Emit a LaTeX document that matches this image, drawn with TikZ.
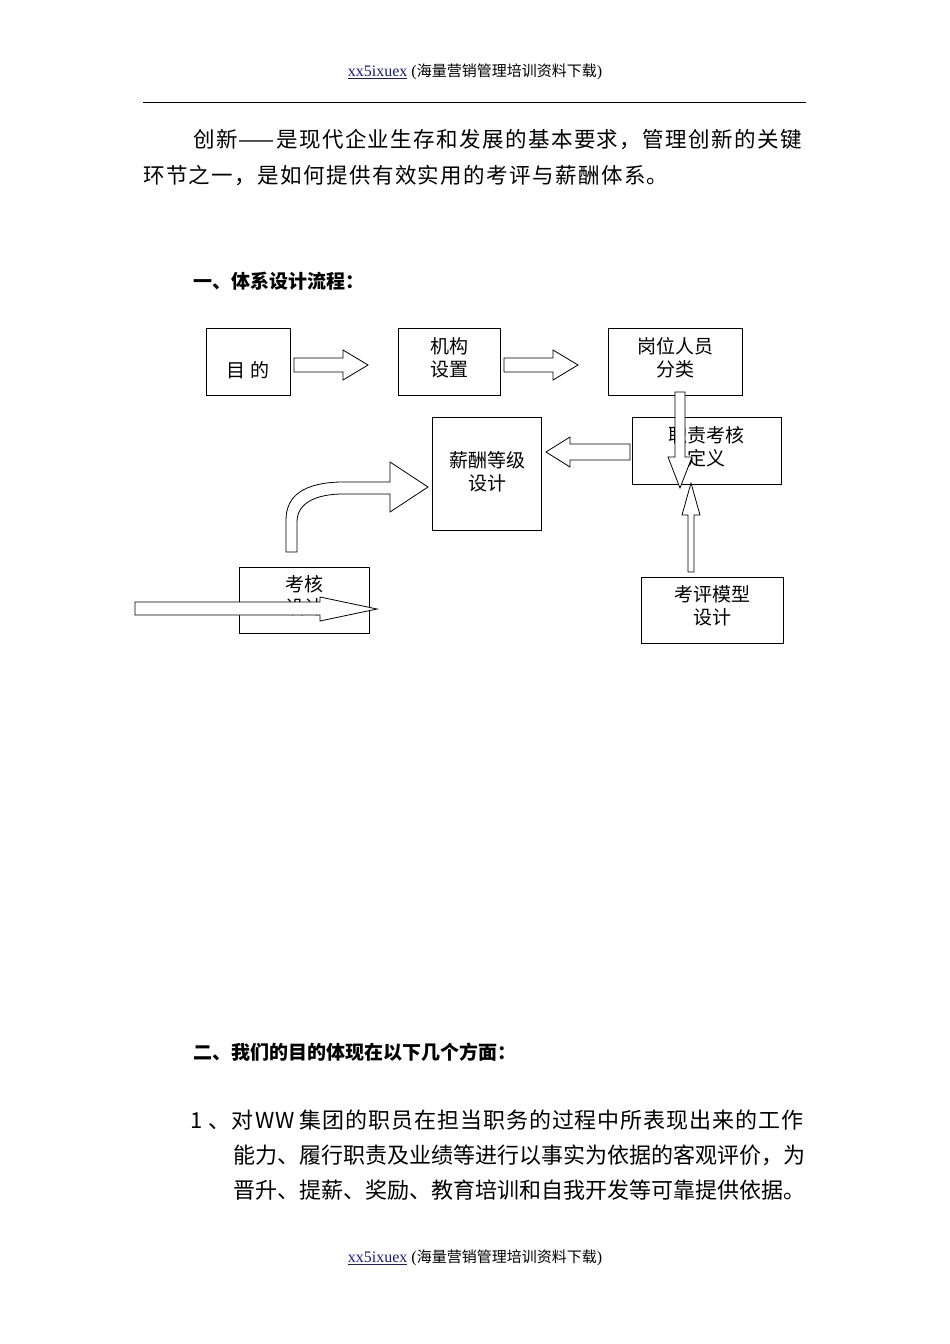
\documentclass[tikz,border=0pt]{standalone}
\usepackage{fontspec}
\newfontfamily\cjk{Noto Sans CJK SC}
\newfontfamily\cjksp[LetterSpace=6.5]{Noto Sans CJK SC}
\newfontfamily\cjkspb[LetterSpace=4.2]{Noto Sans CJK SC}
\setmainfont{Liberation Serif}
\begin{document}
\begin{tikzpicture}[x=1pt,y=-1pt,
  bx/.style={draw,line width=1pt,font=\cjk\fontsize{19}{23}\selectfont,align=center,inner sep=0pt},
  ba/.style={draw,line width=0.8pt,fill=white}]
\useasboundingbox[fill=white] (0,0) rectangle (950,1344);
\node (hd) at (475,72) {\fontsize{16}{18}\selectfont\textcolor[rgb]{0.1,0.1,0.5}{\underline{xx5ixuex}} ({\cjk\fontsize{15}{18}\selectfont 海量营销管理培训资料下载})};
\draw[line width=0.8pt] (143,102) -- (806,102);
\node[anchor=west,inner sep=0,font=\cjksp\fontsize{21.5}{26}\selectfont] (p1) at (193,140) {创新——是现代企业生存和发展的基本要求，管理创新的关键};
\node[anchor=west,inner sep=0,font=\cjksp\fontsize{21.5}{26}\selectfont] (p2) at (143,176) {环节之一，是如何提供有效实用的考评与薪酬体系。};
\node[anchor=west,inner sep=0,font=\cjk\bfseries\fontsize{19}{24}\selectfont] (h1) at (193,281) {一、体系设计流程：};
% boxes
\draw[bx] (206,328) rectangle (290,395); \node[bx,draw=none] (a) at (248,370) {目 的};
\draw[bx] (398,328) rectangle (500,395); \node[bx,draw=none] (b) at (449,358) {机构\\设置};
\draw[bx] (608,328) rectangle (742,395); \node[bx,draw=none] (c) at (675,358) {岗位人员\\分类};
\draw[bx] (432,417) rectangle (541,530); \node[bx,draw=none] (d) at (487,472) {薪酬等级\\设计};
\draw[bx] (632,417) rectangle (781,484); \node[bx,draw=none] (e) at (706,447) {职责考核\\定义};
\draw[bx] (239,567) rectangle (369,633); \node[bx,draw=none] (f) at (304,596) {考核\\设计};
\draw[bx] (641,577) rectangle (783,643); \node[bx,draw=none] (g) at (712,606) {考评模型\\设计};
% block arrows
\draw[ba] (294,358) -- (343,358) -- (343,350) -- (368,365) -- (343,380) -- (343,372) -- (294,372) -- cycle;
\draw[ba] (504,358) -- (553,358) -- (553,350) -- (578,365) -- (553,380) -- (553,372) -- (504,372) -- cycle;
\draw[ba] (630,444) -- (570,444) -- (570,437) -- (546,452) -- (570,467) -- (570,460) -- (630,460) -- cycle;
\draw[ba] (675,392) -- (685,392) -- (685,457) -- (692,457) -- (680,488) -- (668,457) -- (675,457) -- cycle;
\draw[ba] (688,572) -- (694,572) -- (694,515) -- (700,515) -- (691,483) -- (682,515) -- (688,515) -- cycle;
\draw[ba] (286,552) -- (286,520) .. controls (286,495) and (305,483) .. (340,482) -- (390,482) -- (390,462) -- (428,487) -- (390,512) -- (390,494) -- (340,494) .. controls (312,495) and (297,505) .. (297,522) -- (297,552) -- cycle;
\draw[ba] (135,602) -- (320,602) -- (320,597) -- (377,609) -- (320,621) -- (320,615) -- (135,615) -- cycle;
\node[anchor=west,inner sep=0,font=\cjk\bfseries\fontsize{19}{24}\selectfont] (h2) at (193,1052) {二、我们的目的体现在以下几个方面：};
\node[anchor=west,inner sep=0,font=\cjkspb\fontsize{22}{26}\selectfont] (l1) at (190,1120) {1\hspace{6pt}、对\hspace{2pt}WW\hspace{5pt}集团的职员在担当职务的过程中所表现出来的工作};
\node[anchor=west,inner sep=0,font=\cjk\fontsize{22}{26}\selectfont] (l2) at (233,1155) {能力、履行职责及业绩等进行以事实为依据的客观评价，为};
\node[anchor=west,inner sep=0,font=\cjk\fontsize{22}{26}\selectfont] (l3) at (233,1190) {晋升、提薪、奖励、教育培训和自我开发等可靠提供依据。};
\node (ft) at (475,1258) {\fontsize{16}{18}\selectfont\textcolor[rgb]{0.1,0.1,0.5}{\underline{xx5ixuex}} ({\cjk\fontsize{15}{18}\selectfont 海量营销管理培训资料下载})};
\end{tikzpicture}
\end{document}
